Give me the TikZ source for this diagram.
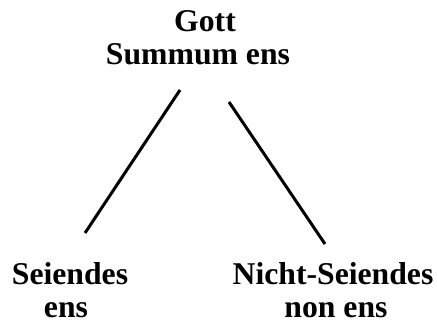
\documentclass[tikz,border=0pt]{standalone}
\usepackage{fontspec}
\setmainfont{Liberation Serif}
\begin{document}
\begin{tikzpicture}[x=1pt,y=1pt,
  lbl/.style={font=\fontsize{31.7}{33}\selectfont\bfseries, inner sep=0pt, anchor=base},
  conn/.style={line width=3pt, black}]
\useasboundingbox (0,0) rectangle (437,331);
\node[lbl] (gott) at (205,299) {Gott};
\node[lbl] (summum) at (198,266) {Summum ens};
\node[lbl] (seiendes) at (70,46) {Seiendes};
\node[lbl] (ens) at (66,13) {ens};
\node[lbl] (nicht) at (333,46) {Nicht-Seiendes};
\node[lbl] (nonens) at (336,13) {non ens};
\coordinate (l1) at (180,241);
\coordinate (l2) at (85,98);
\coordinate (r1) at (229,229);
\coordinate (r2) at (325,87);
\draw[conn] (l1) -- (l2);
\draw[conn] (r1) -- (r2);
\end{tikzpicture}
\end{document}
